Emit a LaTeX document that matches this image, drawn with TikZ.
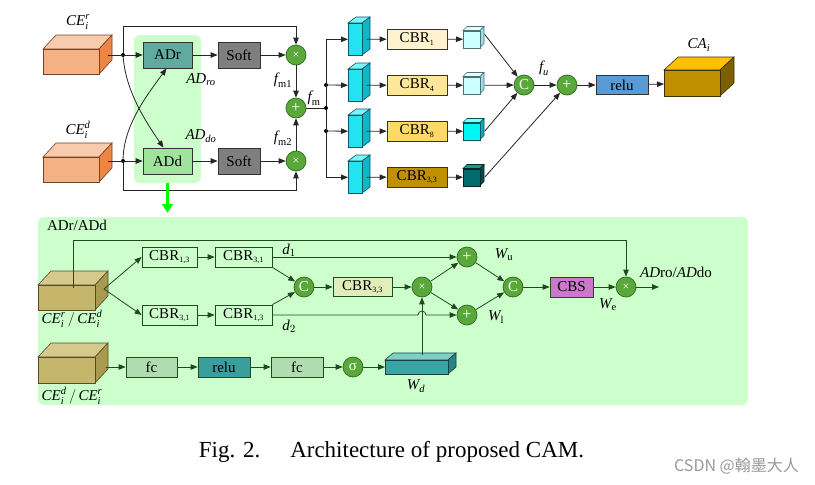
\documentclass[tikz,border=0pt]{standalone}
\usepackage{fontspec}
\usepackage{amsmath}
\setmainfont{Liberation Serif}
\newfontfamily\cjkfont{Noto Sans CJK SC}
\usetikzlibrary{arrows.meta}

\definecolor{peachF}{HTML}{F4B183}
\definecolor{peachT}{HTML}{F8CBAD}
\definecolor{peachS}{HTML}{EB8645}
\definecolor{cyanF}{HTML}{22E3F2}
\definecolor{cyanT}{HTML}{80F3FA}
\definecolor{cyanS}{HTML}{12B5C6}
\definecolor{paleF}{HTML}{CCFFFF}
\definecolor{paleT}{HTML}{E6FFFF}
\definecolor{paleS}{HTML}{9ADFE6}
\definecolor{aquaF}{HTML}{00F5F5}
\definecolor{aquaT}{HTML}{80FFFF}
\definecolor{aquaS}{HTML}{00AFB5}
\definecolor{tealF}{HTML}{006B6B}
\definecolor{tealT}{HTML}{1C9494}
\definecolor{tealS}{HTML}{004C4C}
\definecolor{goldF}{HTML}{BF9000}
\definecolor{goldT}{HTML}{FFC000}
\definecolor{goldS}{HTML}{7F6000}
\definecolor{oliveF}{HTML}{C6B66C}
\definecolor{oliveT}{HTML}{D6C98C}
\definecolor{oliveS}{HTML}{A99A50}
\definecolor{wdF}{HTML}{3AA3A3}
\definecolor{wdT}{HTML}{7ECFC5}
\definecolor{wdS}{HTML}{2A8282}
\definecolor{panelG}{HTML}{CCFFCC}
\definecolor{adrC}{HTML}{61AA9F}
\definecolor{addC}{HTML}{9FE39C}
\definecolor{softC}{HTML}{7F7F7F}
\definecolor{cbrA}{HTML}{FFF2CC}
\definecolor{cbrB}{HTML}{FFE699}
\definecolor{cbrC}{HTML}{FFD966}
\definecolor{cbrD}{HTML}{BF9000}
\definecolor{reluA}{HTML}{5B9BD5}
\definecolor{reluB}{HTML}{3A9E9E}
\definecolor{cbsC}{HTML}{CC79CC}
\definecolor{cbrE}{HTML}{E2EDBC}
\definecolor{fcC}{HTML}{B0DDB0}
\definecolor{opF}{HTML}{5AA83A}
\definecolor{opD}{HTML}{2D6B1E}
\definecolor{gline}{HTML}{1E4A1E}

\def\fsz#1{\fontsize{#1}{#1}\selectfont}
\def\sbs#1{\textsubscript{\fsz{8}#1}}
% name, x, y (front top left), width, height, dx, dy, colour set
\newcommand{\cuboid}[8]{%
	\filldraw[#8T,draw=#8S!50!black,line width=0.6pt] (#2,#3) -- ++(#6,-#7) -- ++(#4,0) -- ++(-#6,#7) -- cycle;
	\filldraw[#8S,draw=#8S!50!black,line width=0.6pt] (#2+#4,#3) -- ++(#6,-#7) -- ++(0,#5) -- ++(-#6,#7) -- cycle;
	\node[draw=#8S!50!black,fill=#8F,line width=0.6pt,minimum width=#4pt,minimum height=#5pt,inner sep=0pt,anchor=north west] (#1) at (#2,#3) {};}

\begin{document}
\begin{tikzpicture}[x=1pt,y=-1pt,
	line/.style={line width=0.8pt,draw=black!85},
	arr/.style={line,-{Triangle[length=7pt,width=5.5pt]}},
	garr/.style={arr,draw=gline},
	box/.style={draw=black!80,line width=0.7pt,inner sep=0pt,minimum height=20pt,font=\fsz{15}},
	gbox/.style={box,draw=gline},
	op/.style={circle,draw=opD,fill=opF,line width=0.7pt,inner sep=0pt,minimum size=20pt,text=white,font=\fsz{15}},
	lbl/.style={font=\fsz{15},inner sep=0pt},
	dot/.style={circle,fill=black,inner sep=0pt,minimum size=4pt}]
			%%%%% START %%%%%
			\useasboundingbox[fill=white] (0,0) rectangle (815,485);
			
			% upper part
			\node[fill=panelG,rounded corners=6pt,minimum width=67pt,minimum height=148pt,inner sep=0pt] (grp) at (167.5,109) {};
			
			\cuboid{CEr}{43}{49}{56}{25}{13}{14}{peach}
			\cuboid{CEd}{43}{157}{56}{25}{13}{14}{peach}
			\node[lbl] (lCEr) at (78,22) {$\textit{CE}_{\textit{i}}^{\textit{r}}$};
			\node[lbl] (lCEd) at (78,130) {$\textit{CE}_{\textit{i}}^{\textit{d}}$};
			
			\node[box,fill=adrC,minimum width=49pt,minimum height=26pt] (ADr) at (167.5,55) {ADr};
			\node[box,fill=addC,minimum width=49pt,minimum height=26pt] (ADd) at (167.5,161) {ADd};
			\node[box,fill=softC,minimum width=42pt,minimum height=26pt] (soft1) at (239,55) {Soft};
			\node[box,fill=softC,minimum width=42pt,minimum height=26pt] (soft2) at (239,161) {Soft};
			\node[op,font=\fsz{12}] (mul1) at (296,55) {×};
			\node[op,font=\fsz{12}] (mul2) at (296,161) {×};
			\node[op,font=\fsz{16}] (plus1) at (296,108) {+};
			\node[dot] (j1) at (123,55) {};
			\node[dot] (j2) at (123,161) {};
			
			\draw[arr] ([xshift=8pt]CEr.east |- ADr) -- (ADr);
			\draw[arr] ([xshift=8pt]CEd.east |- ADd) -- (ADd);
			\draw[arr] (j1) -- ++(0,-29) -| (mul1);
			\draw[arr] (j2) -- ++(0,29) -| (mul2);
			\draw[arr] (j1) .. controls (126,92) and (146,122) .. ([xshift=-4pt]ADd.north);
			\draw[arr] (j2) .. controls (124,124) and (148,94) .. ([xshift=-1pt]ADr.south);
			\draw[arr] (ADr) -- (soft1);
			\draw[arr] (ADd) -- (soft2);
			\draw[arr] (soft1) -- (mul1);
			\draw[arr] (soft2) -- (mul2);
			\draw[arr] (mul1) -- (plus1);
			\draw[arr] (mul2) -- (plus1);
			
			\node[lbl] (lADro) at (201,80) {$\textit{AD}_{\textit{ro}}$};
			\node[lbl] (lADdo) at (201,136) {$\textit{AD}_{\textit{do}}$};
			\node[lbl] (lfm1) at (283,80) {$\textit{f}_{\text{m1}}$};
			\node[lbl] (lfm2) at (283,138) {$\textit{f}_{\text{m2}}$};
			\node[lbl] (lfm) at (314,98) {$\textit{f}_{\text{m}}$};
			
			% four branches
			\node[dot] (b0) at (326,108) {};
			\node[dot] (b2) at (326,85) {};
			\node[dot] (b3) at (326,131) {};
			\draw[line] (plus1) -- (b0);
			
			\cuboid{blk1}{348}{23}{14}{32}{8}{6}{cyan}
			\cuboid{blk2}{348}{69}{14}{32}{8}{6}{cyan}
			\cuboid{blk3}{348}{115}{14}{32}{8}{6}{cyan}
			\cuboid{blk4}{348}{161}{14}{32}{8}{6}{cyan}
			\draw[arr] (b0) |- (blk1);
			\draw[arr] (b2) -- (blk2);
			\draw[arr] (b3) -- (blk3);
			\draw[arr] (b0) |- (blk4);
			
			\node[box,fill=cbrA,minimum width=60pt] (cbr1) at (417,39) {CBR\sbs{1}};
			\node[box,fill=cbrB,minimum width=60pt] (cbr2) at (417,85) {CBR\sbs{4}};
			\node[box,fill=cbrC,minimum width=60pt] (cbr3) at (417,131) {CBR\sbs{8}};
			\node[box,fill=cbrD,minimum width=60pt] (cbr4) at (417,177) {CBR\sbs{3,3}};
			\draw[arr] ([xshift=4pt]blk1.east) -- (cbr1);
			\draw[arr] ([xshift=4pt]blk2.east) -- (cbr2);
			\draw[arr] ([xshift=4pt]blk3.east) -- (cbr3);
			\draw[arr] ([xshift=4pt]blk4.east) -- (cbr4);
			
			\cuboid{q1}{463}{30.5}{17}{17}{4}{4}{pale}
			\cuboid{q2}{463}{76.5}{17}{17}{4}{4}{pale}
			\cuboid{q3}{463}{122.5}{17}{17}{4}{4}{aqua}
			\cuboid{q4}{463}{168.5}{17}{17}{4}{4}{teal}
			\draw[arr] (cbr1) -- (q1);
			\draw[arr] (cbr2) -- (q2);
			\draw[arr] (cbr3) -- (q3);
			\draw[arr] (cbr4) -- (q4);
			
			\node[op] (cat1) at (524,85) {C};
			\node[op,font=\fsz{16}] (plus2) at (567,85) {+};
			\draw[arr] ([xshift=4pt,yshift=5pt]q1.east) -- (cat1);
			\draw[arr] ([xshift=4pt]q2.east) -- (cat1);
			\draw[arr] ([xshift=4pt]q3.east) -- (cat1);
			\draw[arr] ([xshift=4pt]q4.east) -- (plus2);
			\draw[arr] (cat1) -- (plus2);
			\node[lbl] (lfu) at (544,68) {$\textit{f}_{\textit{u}}$};
			
			\node[box,fill=reluA,minimum width=52pt,minimum height=19pt] (relu1) at (622,85) {relu};
			\cuboid{CA}{664}{70}{56}{26}{14}{13}{gold}
			\node[lbl] (lCA) at (699,45) {$\textit{CA}_{\textit{i}}$};
			\draw[arr] (plus2) -- (relu1);
			\draw[arr] (relu1) -- (CA);
			
			% lower part
			\node[fill=panelG,rounded corners=6pt,minimum width=710pt,minimum height=188pt,inner sep=0pt] (sub) at (393,311) {};
			\draw[line width=2.4pt,draw=green,-{Triangle[length=9pt,width=11pt]}] (grp.south) -- ([yshift=4pt]grp.south |- sub.north);
			\node[lbl] (ltitle) at (77,225) {ADr/ADd};
			
			\cuboid{CEa}{38}{285}{57}{25}{13}{14}{olive}
			\cuboid{CEb}{38}{357}{57}{26}{13}{14}{olive}
			\node[lbl] (lCEa) at (72,319) {$\textit{CE}_{\textit{i}}^{\textit{r}}\,/\,\textit{CE}_{\textit{i}}^{\textit{d}}$};
			\node[lbl] (lCEb) at (72,396) {$\textit{CE}_{\textit{i}}^{\textit{d}}\,/\,\textit{CE}_{\textit{i}}^{\textit{r}}$};
			\coordinate (fk) at (104,289);
			\coordinate (sk) at (73,288);
			
			\node[gbox,minimum width=55pt] (cA1) at (169.5,257) {CBR\sbs{1,3}};
			\node[gbox,minimum width=57pt] (cA2) at (243.5,257) {CBR\sbs{3,1}};
			\node[gbox,minimum width=55pt] (cB1) at (169.5,315) {CBR\sbs{3,1}};
			\node[gbox,minimum width=57pt] (cB2) at (243.5,315) {CBR\sbs{1,3}};
			\node[op] (cat2) at (304,287) {C};
			\node[gbox,fill=cbrE,minimum width=59pt,minimum height=19pt] (cbr33) at (362.5,287) {CBR\sbs{3,3}};
			\node[op,font=\fsz{12}] (mul3) at (422,287) {×};
			\node[op,font=\fsz{16}] (plusU) at (467,257) {+};
			\node[op,font=\fsz{16}] (plusL) at (467,315) {+};
			\node[op] (cat3) at (513,287) {C};
			\node[gbox,fill=cbsC,minimum width=43pt] (cbs) at (571.5,287) {CBS};
			\node[op,font=\fsz{12}] (mul4) at (626,287) {×};
			\coordinate (out) at (659,287);
			
			\draw[garr] (fk) -- (cA1.west);
			\draw[garr] (fk) -- (cB1.west);
			\draw[garr] (cA1) -- (cA2);
			\draw[garr] (cB1) -- (cB2);
			\draw[garr] (cA2.south east) -- (cat2);
			\draw[garr] (cB2.north east) -- (cat2);
			\draw[garr] (cA2) -- (plusU);
			\draw[garr] (cB2) -- (418,315) arc (180:360:4) -- (plusL);
			\draw[garr] (cat2) -- (cbr33);
			\draw[garr] (cbr33) -- (mul3);
			\draw[garr] (mul3) -- (plusU);
			\draw[garr] (mul3) -- (plusL);
			\draw[garr] (plusU) -- (cat3);
			\draw[garr] (plusL) -- (cat3);
			\draw[garr] (cat3) -- (cbs);
			\draw[garr] (cbs) -- (mul4);
			\draw[garr] (mul4) -- (out);
			\draw[garr] (sk) -- ++(0,-48) -| (mul4);
			
			\node[lbl] (ld1) at (289,250) {$\textit{d}_{1}$};
			\node[lbl] (ld2) at (289,326) {$\textit{d}_{2}$};
			\node[lbl] (lWu) at (504,255) {$\textit{W}_{\text{u}}$};
			\node[lbl] (lWl) at (496,317) {$\textit{W}_{\text{l}}$};
			\node[lbl] (lWe) at (608,305) {$\textit{W}_{\text{e}}$};
			\node[lbl,anchor=west] (lout) at (640,272) {\textit{AD}ro/\textit{AD}do};
			
			\node[gbox,fill=fcC,minimum width=51pt] (fc1) at (151.5,367) {fc};
			\node[gbox,fill=reluB,minimum width=52pt] (relu2) at (224,367) {relu};
			\node[gbox,fill=fcC,minimum width=52pt] (fc2) at (297,367) {fc};
			\node[op] (sig) at (353,367) {σ};
			\cuboid{Wd}{385}{360}{63}{14}{8}{7}{wd}
			\node[lbl] (lWd) at (416,386) {$\textit{W}_{\textit{d}}$};
			
			\draw[garr] ([xshift=10pt]CEb.east |- fc1) -- (fc1);
			\draw[garr] (fc1) -- (relu2);
			\draw[garr] (relu2) -- (fc2);
			\draw[garr] (fc2) -- (sig);
			\draw[garr] (sig) -- (Wd.west |- sig);
			\draw[garr] ([yshift=5pt]mul3 |- Wd.north) -- (mul3);
			
			% caption
			\node[font=\fsz{23},inner sep=0pt] (cap) at (391.5,452) {Fig. 2.\hspace{30pt}Architecture of proposed CAM.};
			\node[font=\cjkfont\fsz{16},text=black!40,inner sep=0pt,anchor=east] (wm) at (799,466) {CSDN @翰墨大人};
			
			%%%%% END %%%%%
		\end{tikzpicture}
\end{document}
